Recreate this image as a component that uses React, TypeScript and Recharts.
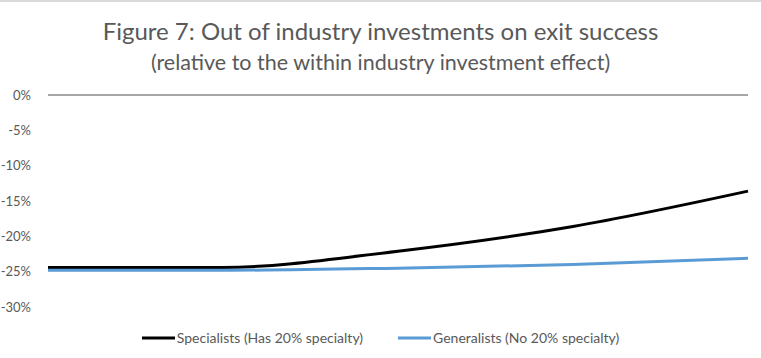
import React from "react";
import { LineChart, Line, XAxis, YAxis, ReferenceLine, Legend } from "recharts";

const categories = ["P1", "P2", "P3", "P4", "P5"];
const specialists = [-24.4, -24.4, -22.1, -18.6, -13.6];
const generalists = [-24.8, -24.8, -24.5, -24.0, -23.1];
const yTicks = [0, -5, -10, -15, -20, -25, -30];
const seriesNames = ["Specialists (Has 20% specialty)", "Generalists (No 20% specialty)"];

const data = categories.map((c, i) => ({
  name: c,
  specialists: specialists[i],
  generalists: generalists[i],
}));

const FONT = "Lato, 'Open Sans', sans-serif";
const TEXT = "#595959";

const LegendContent = (props: any) => {
  const payload = [...(props.payload || [])].sort(
    (a: any, b: any) => seriesNames.indexOf(a.value) - seriesNames.indexOf(b.value)
  );
  return (
    <div style={{ display: "flex", justifyContent: "center", gap: 35, fontFamily: FONT, fontSize: 14, color: TEXT, lineHeight: "16px" }}>
      {payload.map((p: any) => (
        <div key={p.value} style={{ display: "flex", alignItems: "center" }}>
          <svg width={33} height={6} style={{ marginRight: 2 }}>
            <line x1={0} y1={3} x2={33} y2={3} stroke={p.color} strokeWidth={3} />
          </svg>
          <span>{p.value}</span>
        </div>
      ))}
    </div>
  );
};

export default function App() {
  return (
    <div style={{ position: "absolute", left: 0, top: 0, width: 761, height: 358, background: "#fff", borderTop: "2px solid #d9d9d9", boxSizing: "border-box" }}>
      <div style={{ position: "absolute", top: 14, left: 0, width: 761, textAlign: "center", fontFamily: FONT, fontSize: 24, color: TEXT, lineHeight: "30px" }}>
        Figure 7: Out of industry investments on exit success
      </div>
      <div style={{ position: "absolute", top: 47, left: 0, width: 761, textAlign: "center", fontFamily: FONT, fontSize: 21.5, color: TEXT, lineHeight: "26px" }}>
        (relative to the within industry investment effect)
      </div>
      <div style={{ position: "absolute", top: -2, left: 0 }}>
        <LineChart width={761} height={358} data={data} margin={{ top: 95, right: 13, bottom: 35, left: 0 }}>
          <XAxis dataKey="name" hide />
          <YAxis
            domain={[-30, 0]}
            ticks={yTicks}
            width={48}
            axisLine={false}
            tickLine={false}
            tickSize={0}
            tickMargin={17}
            tickFormatter={(v: number) => `${v}%`}
            tick={{ fill: TEXT, fontSize: 13, fontFamily: FONT }}
          />
          <ReferenceLine y={0} stroke="#a6a6a6" strokeWidth={2} />
          <Line type="monotone" dataKey="specialists" name={seriesNames[0]} stroke="#000000" strokeWidth={3} dot={false} isAnimationActive={false} />
          <Line type="monotone" dataKey="generalists" name={seriesNames[1]} stroke="#5b9bd5" strokeWidth={3} dot={false} isAnimationActive={false} />
          <Legend content={<LegendContent />} wrapperStyle={{ position: "absolute", top: 330, left: 0, width: 761, height: 16 }} />
        </LineChart>
      </div>
    </div>
  );
}
